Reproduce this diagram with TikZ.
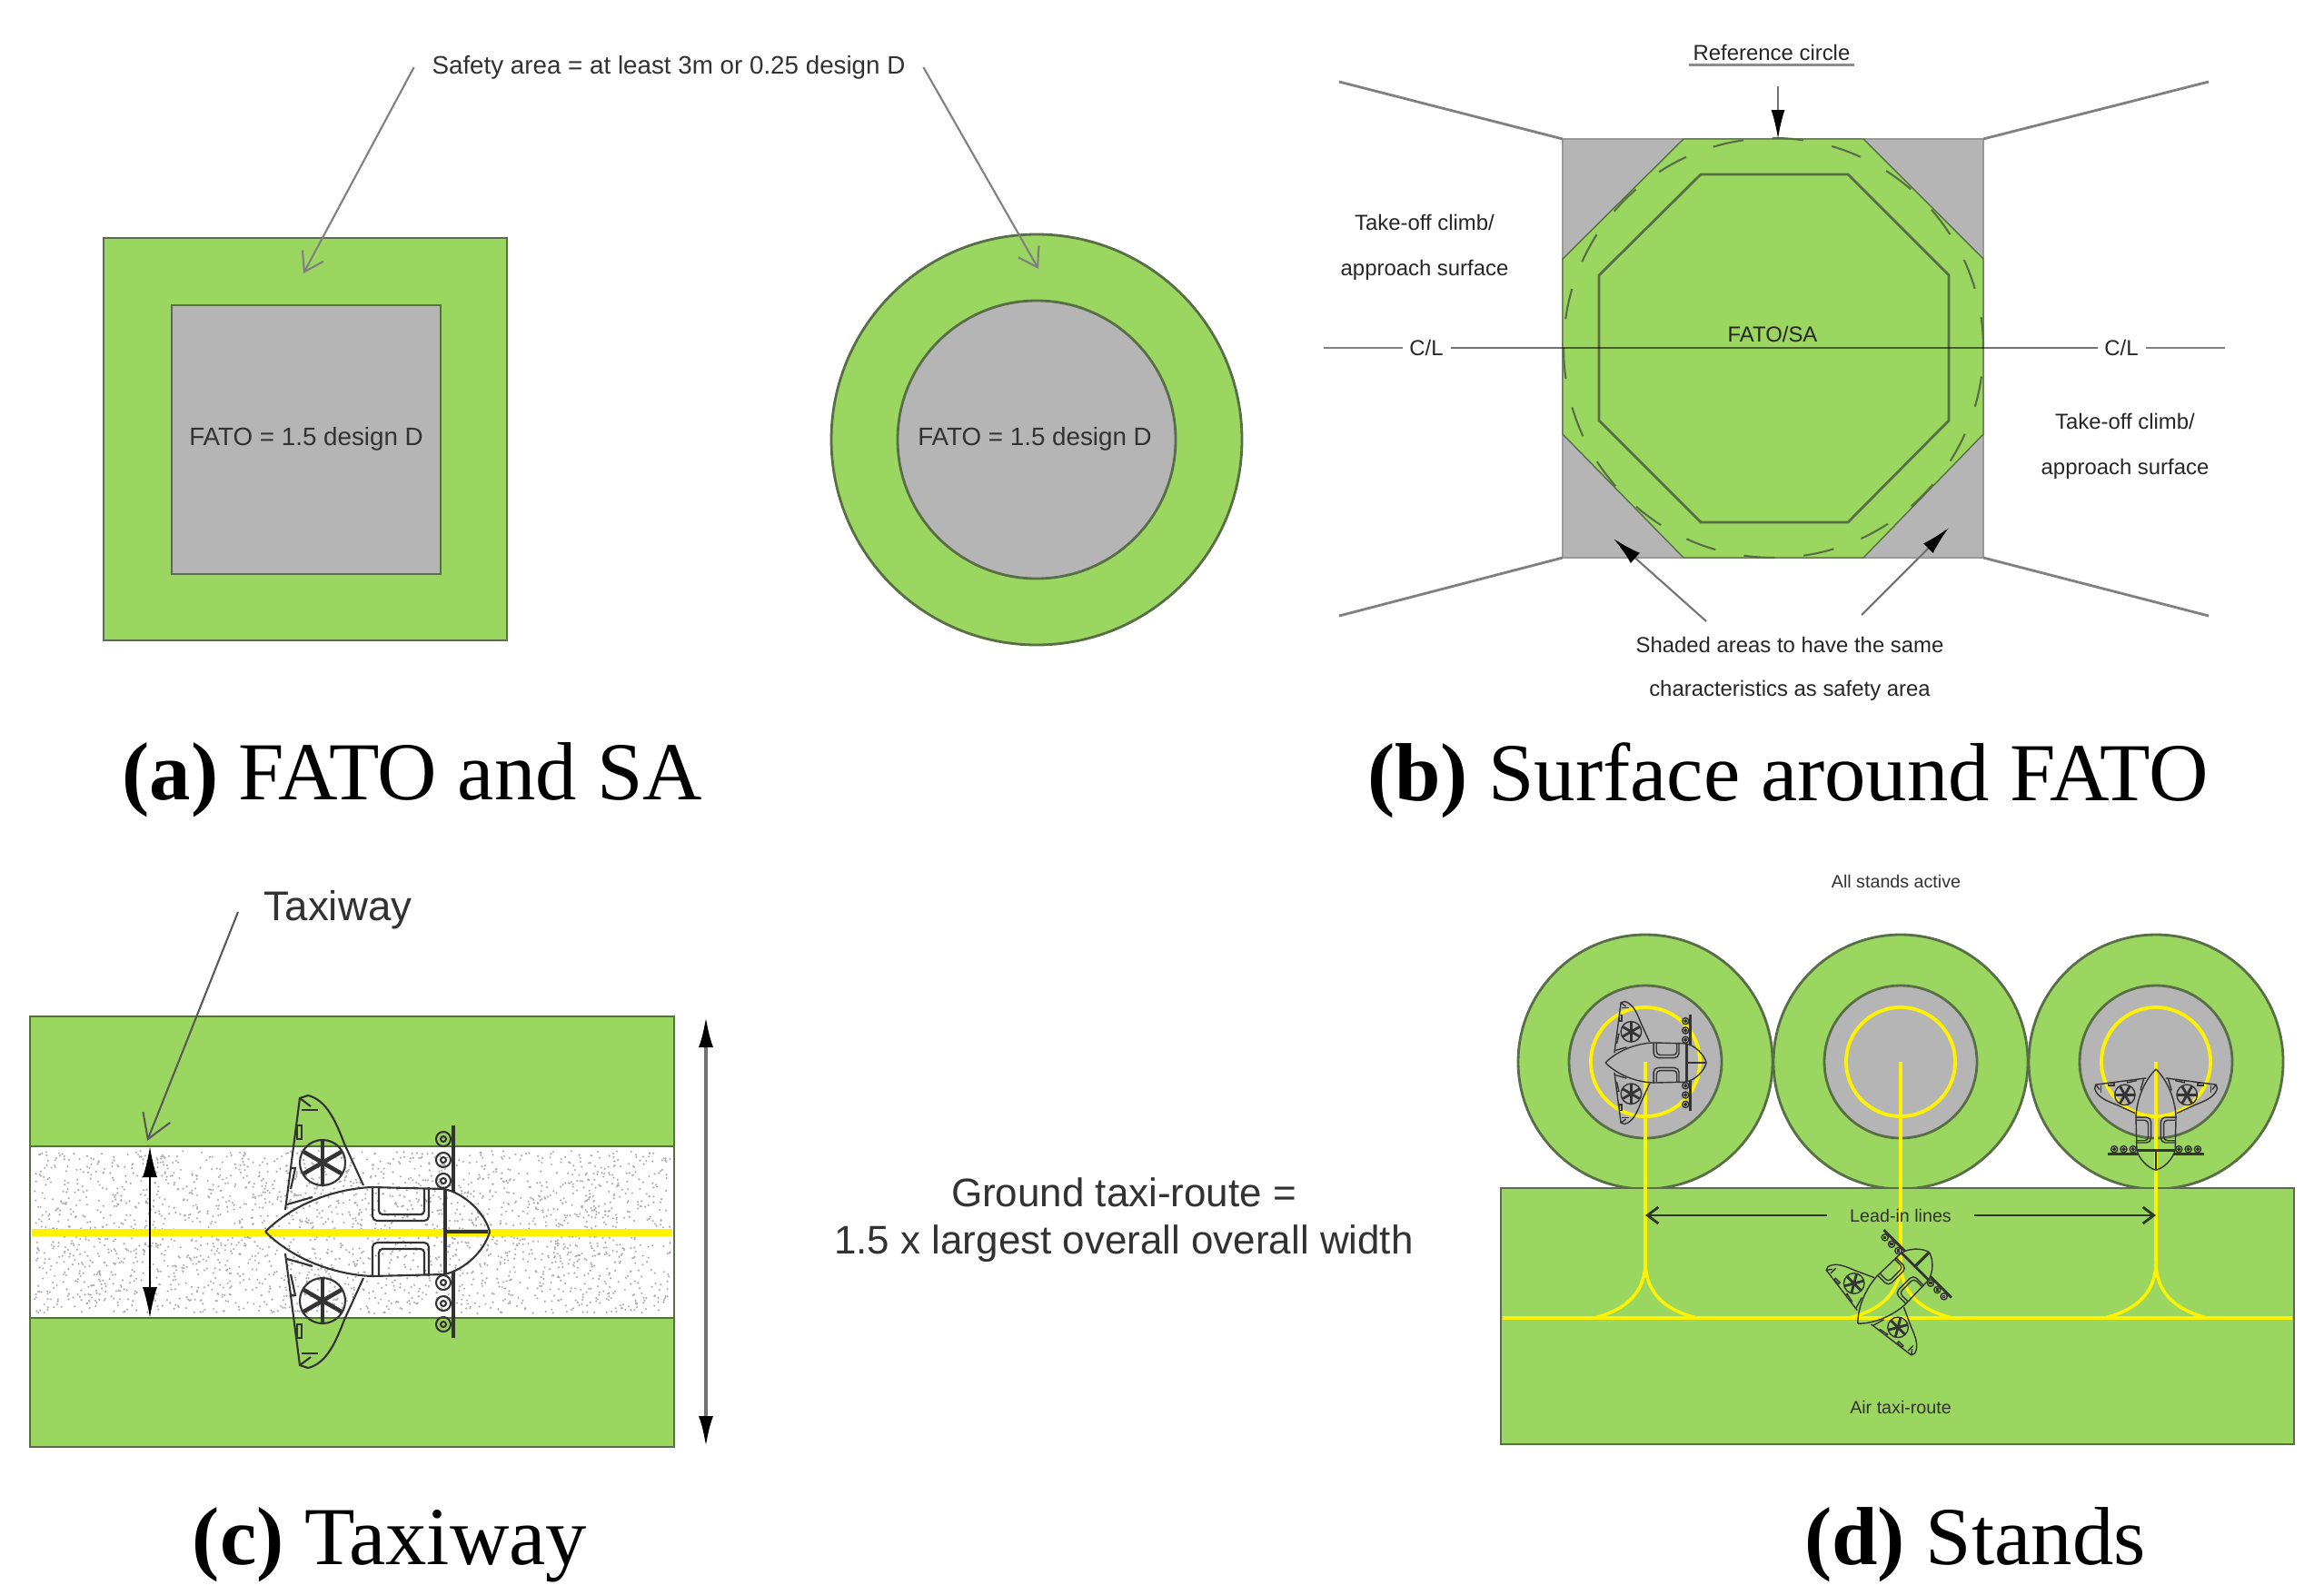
\documentclass[tikz,border=0pt]{standalone}
\usepackage{fontspec}
\usepackage{tikz}
\setmainfont{Liberation Sans}
\newfontfamily\capfont{Liberation Serif}
\usetikzlibrary{arrows.meta}
\definecolor{padgreen}{RGB}{154,214,96}
\definecolor{padgrey}{RGB}{181,181,181}
\definecolor{edgegreen}{RGB}{88,110,70}
\definecolor{inktext}{RGB}{50,50,50}
\tikzset{
    areabox/.style={draw=edgegreen, thick},
    label a/.style={text=inktext, font=\fontsize{7.9}{9}\selectfont, inner sep=1pt},
    label b/.style={text=black!85, font=\fontsize{6.8}{8}\selectfont, inner sep=1pt},
    label d/.style={text=inktext, font=\fontsize{5.6}{7}\selectfont, inner sep=1pt},
    label c/.style={text=inktext, font=\fontsize{12.5}{15}\selectfont, inner sep=1pt},
    caption/.style={text=black, font=\capfont\fontsize{25.8}{30}\selectfont, inner sep=0pt},
    barb/.style={draw=black!50, semithick, -{Straight Barb[length=2mm,width=2.6mm]}},
    bigbarb/.style={draw=black!65, semithick, -{Straight Barb[length=2.6mm,width=3.2mm]}},
    solidtip/.style={draw=black!55, semithick, -{Latex[length=3.2mm,width=1.5mm,black]}},
    bothtip/.style={draw=black, semithick, {Latex[length=3.4mm,width=1.6mm,black]}-{Latex[length=3.4mm,width=1.6mm,black]}},
    splay/.style={draw=black!50, thick},
    taxiyellow/.style={draw=yellow, line width=1pt},
    craft line/.style={line width=.6pt},
    craft heavy/.style={line width=1.3pt},
    small craft/.style={scale=.45, craft line/.style={line width=.4pt}, craft heavy/.style={line width=.8pt}},
    aircraft/.pic={
        \foreach \s in {1, -1} {
            \begin{scope}[yscale=\s, draw=black!80, craft line]
                \draw (-1.20cm, 0cm) .. controls (-0.90cm, 0.30cm) and (-0.45cm, 0.47cm) .. (-0.03cm, 0.49cm)
                    -- (0.77cm, 0.47cm) .. controls (1.00cm, 0.42cm) and (1.22cm, 0.20cm) .. (1.27cm, 0cm);
                \draw (-0.98cm, 0.24cm) -- (-0.82cm, 1.47cm) -- (-0.73cm, 1.50cm)
                    .. controls (-0.52cm, 1.45cm) and (-0.42cm, 1.20cm) .. (-0.33cm, 0.97cm) -- (-0.12cm, 0.51cm);
                \draw (-0.96cm, 0.30cm) -- (-0.68cm, 0.38cm);
                \draw (-0.80cm, 1.34cm) -- (-0.62cm, 1.34cm);
                \draw (-0.82cm, 1.47cm) -- (-0.70cm, 1.38cm);
                \draw (-0.85cm, 1.17cm) rectangle (-0.80cm, 1.02cm);
                \draw (-0.92cm, 0.70cm) -- (-0.87cm, 0.70cm) -- (-0.92cm, 0.47cm);
                \draw (-0.57cm, 0.76cm) circle (0.25cm);
                \foreach \a in {30, 90, 150, 210, 270, 330}
                    \draw[craft heavy] (-0.57cm, 0.76cm) -- ++(\a:0.24cm);
                \draw[rounded corners=0.05cm] (-0.02cm, 0.49cm) -- (-0.02cm, 0.12cm) -- (0.60cm, 0.12cm) -- (0.60cm, 0.49cm);
                \draw[rounded corners=0.04cm] (0.05cm, 0.48cm) -- (0.05cm, 0.19cm) -- (0.55cm, 0.19cm) -- (0.55cm, 0.48cm);
                \draw[craft heavy] (0.78cm, 0.47cm) -- (0.78cm, 0cm) -- (1.25cm, 0cm);
                \draw[craft heavy] (0.87cm, 1.17cm) -- (0.87cm, 0.44cm);
                \foreach \w in {1.02cm, 0.79cm, 0.56cm} {
                    \draw (0.76cm, \w) circle (0.08cm);
                    \draw (0.76cm, \w) circle (0.03cm);
                }
            \end{scope}
        }
    },
}
\begin{document}
\begin{tikzpicture}[
        >=latex, thick,
    ]
    \useasboundingbox (0cm, 0cm) rectangle (25.58cm, -17.55cm);

    \fill[white] (0cm, 0cm) rectangle (25.58cm, -17.55cm);

    \begin{scope}[xshift=0.02cm, yshift=-0.02cm]
    \draw[areabox, fill=padgreen] (1.12cm, -2.60cm) rectangle (5.56cm, -7.03cm);
    \draw[areabox, fill=padgrey] (1.87cm, -3.34cm) rectangle (4.83cm, -6.30cm);
    \node[label a] (fatosq) at (3.35cm, -4.81cm) {FATO = 1.5 design D};

    \draw[areabox, fill=padgreen] (11.39cm, -4.82cm) circle (2.26cm);
    \draw[areabox, fill=padgrey] (11.39cm, -4.82cm) circle (1.53cm);
    \node[label a] (fatoci) at (11.37cm, -4.81cm) {FATO = 1.5 design D};

    \node[label a] (safety) at (7.34cm, -0.72cm) {Safety area = at least 3m or 0.25 design D};
    \coordinate (sqtip) at (3.32cm, -2.99cm);
    \coordinate (citip) at (11.41cm, -2.94cm);
    \draw[barb] ([xshift=-1.5mm]safety.west) -- (sqtip);
    \draw[barb] ([xshift=1.5mm]safety.east) -- (citip);

    \node[caption] (capa) at (4.52cm, -8.57cm) {\textbf{(a)} FATO and SA};

    \draw[draw=black!40, fill=padgrey] (17.18cm, -1.51cm) rectangle (21.81cm, -6.12cm);
    \draw[draw=edgegreen, thin, fill=padgreen] (18.51cm, -1.51cm) -- (20.49cm, -1.51cm) -- (21.81cm, -2.83cm)
        -- (21.81cm, -4.76cm) -- (20.49cm, -6.12cm) -- (18.51cm, -6.12cm)
        -- (17.18cm, -4.76cm) -- (17.18cm, -2.83cm) -- cycle;
    \draw[draw=edgegreen] (18.70cm, -1.90cm) -- (20.32cm, -1.90cm) -- (21.43cm, -3.01cm)
        -- (21.43cm, -4.61cm) -- (20.32cm, -5.73cm) -- (18.70cm, -5.73cm)
        -- (17.58cm, -4.61cm) -- (17.58cm, -3.01cm) -- cycle;
    \draw[draw=edgegreen, semithick, dash pattern=on 3.4mm off 3.2mm] (19.50cm, -3.81cm) circle (2.31cm);

    \node[label b] (clleft) at (15.68cm, -3.81cm) {C/L};
    \node[label b] (clright) at (23.33cm, -3.81cm) {C/L};
    \coordinate (clfarl) at (14.55cm, -3.81cm);
    \coordinate (clfarr) at (24.47cm, -3.81cm);
    \draw[splay] (clfarl) -- ([xshift=-0.3mm]clleft.west);
    \draw[draw=black, opacity=.55] ([xshift=0.3mm]clleft.east) -- ([xshift=-0.3mm]clright.west);
    \draw[splay] ([xshift=0.3mm]clright.east) -- (clfarr);

    \foreach \name/\ax/\ay/\bx/\by in {tl/14.72/-0.88/17.18/-1.51, tr/24.29/-0.88/21.81/-1.51,
                                       bl/14.72/-6.76/17.18/-6.12, br/24.29/-6.76/21.81/-6.12}
        \draw[splay] (\ax cm, \ay cm) coordinate (far\name) -- (\bx cm, \by cm) coordinate (near\name);

    \node[label b] (refcircle) at (19.48cm, -0.56cm) {Reference circle};
    \draw[draw=black!45] (refcircle.south west) -- (refcircle.south east);
    \coordinate (reftip) at (19.55cm, -1.51cm);
    \draw[solidtip] (19.55cm, -0.93cm) -- (reftip);

    \node[label b, align=center] (takeoffl) at (15.66cm, -2.705cm) {Take-off climb/\\[2.2mm]approach surface};
    \node[label b, align=center] (takeoffr) at (23.37cm, -4.89cm) {Take-off climb/\\[2.2mm]approach surface};
    \node[label b] (fatosa) at (19.49cm, -3.66cm) {FATO/SA};

    \node[label b, align=center] (shaded) at (19.68cm, -7.34cm) {Shaded areas to have the same\\[2.0mm]characteristics as safety area};
    \coordinate (shadel) at (17.74cm, -5.91cm);
    \coordinate (shader) at (21.43cm, -5.79cm);
    \draw[solidtip] (18.76cm, -6.82cm) -- (shadel);
    \draw[solidtip] (20.47cm, -6.75cm) -- (shader);

    \node[caption] (capb) at (19.66cm, -8.57cm) {\textbf{(b)} Surface around FATO};

    \draw[areabox, fill=padgreen] (0.31cm, -11.17cm) rectangle (7.40cm, -15.91cm);
    \draw[areabox, fill=white] (0.31cm, -12.60cm) rectangle (7.40cm, -14.49cm);
    \pgfmathsetseed{11}
    \foreach \i in {1,...,2600}
        \fill[black!32] ({0.36+7.0*rnd}, {-12.65-1.79*rnd}) circle (0.012cm);
    \draw[draw=yellow, line width=2.3pt] (0.33cm, -13.55cm) -- (7.38cm, -13.55cm);

    \pic (craftc) at (4.10cm, -13.54cm) {aircraft};

    \coordinate (bandtop) at (1.63cm, -12.60cm);
    \coordinate (bandbot) at (1.63cm, -14.49cm);
    \draw[bothtip] (bandtop) -- (bandbot);
    \coordinate (widetop) at (7.75cm, -11.17cm);
    \coordinate (widebot) at (7.75cm, -15.91cm);
    \draw[bothtip, draw=black!55, line width=1.1pt] (widetop) -- (widebot);

    \node[label c, font=\fontsize{13}{15}\selectfont] (taxiway) at (3.70cm, -10.00cm) {Taxiway};
    \coordinate (taxistart) at (2.60cm, -10.02cm);
    \coordinate (taxitip) at (1.60cm, -12.54cm);
    \draw[bigbarb] (taxistart) -- (taxitip);

    \node[caption] (capc) at (4.27cm, -16.99cm) {\textbf{(c)} Taxiway};

    \node[label c, align=center] (groundtaxi) at (12.35cm, -13.41cm) {Ground taxi-route =\\1.5 x largest overall overall width};

    \foreach \cx in {18.09cm, 20.90cm, 23.71cm} {
        \draw[areabox, fill=padgreen] (\cx, -11.67cm) circle (1.40cm);
        \draw[areabox, fill=padgrey] (\cx, -11.67cm) circle (0.84cm);
        \draw[draw=yellow, line width=1.1pt] (\cx, -11.67cm) circle (0.60cm);
    }
    \draw[areabox, fill=padgreen] (16.50cm, -13.06cm) rectangle (25.23cm, -15.88cm);
    \draw[taxiyellow] (16.52cm, -14.49cm) -- (25.21cm, -14.49cm);
    \foreach \cx in {18.09cm, 20.90cm, 23.71cm} {
        \draw[taxiyellow] (\cx, -11.67cm) -- (\cx, -13.87cm);
        \draw[taxiyellow] ([xshift=-0.57cm]\cx, -14.49cm) .. controls ([xshift=-0.20cm]\cx, -14.40cm) and (\cx, -14.20cm) .. (\cx, -13.87cm)
            .. controls (\cx, -14.20cm) and ([xshift=0.20cm]\cx, -14.40cm) .. ([xshift=0.57cm]\cx, -14.49cm);
    }

    \pic[small craft] (crafta) at (18.19cm, -11.68cm) {aircraft};
    \pic[small craft, rotate=-90] (craftb) at (23.71cm, -12.29cm) {aircraft};
    \pic[small craft, rotate=45] (craftd) at (20.81cm, -14.17cm) {aircraft};

    \node[label d] (leadin) at (20.90cm, -13.36cm) {Lead-in lines};
    \coordinate (leadl) at (18.09cm, -13.36cm);
    \coordinate (leadr) at (23.71cm, -13.36cm);
    \draw[draw=black!50!edgegreen, -{Straight Barb[length=1.2mm,width=1.8mm]}] ([xshift=-2mm]leadin.west) -- (leadl);
    \draw[draw=black!50!edgegreen, -{Straight Barb[length=1.2mm,width=1.8mm]}] ([xshift=2mm]leadin.east) -- (leadr);
    \node[label d] (airtaxi) at (20.90cm, -15.47cm) {Air taxi-route};
    \node[label d] (allstands) at (20.85cm, -9.68cm) {All stands active};

    \node[caption] (capd) at (21.72cm, -16.99cm) {\textbf{(d)} Stands};
    \end{scope}

    \end{tikzpicture}
\end{document}
